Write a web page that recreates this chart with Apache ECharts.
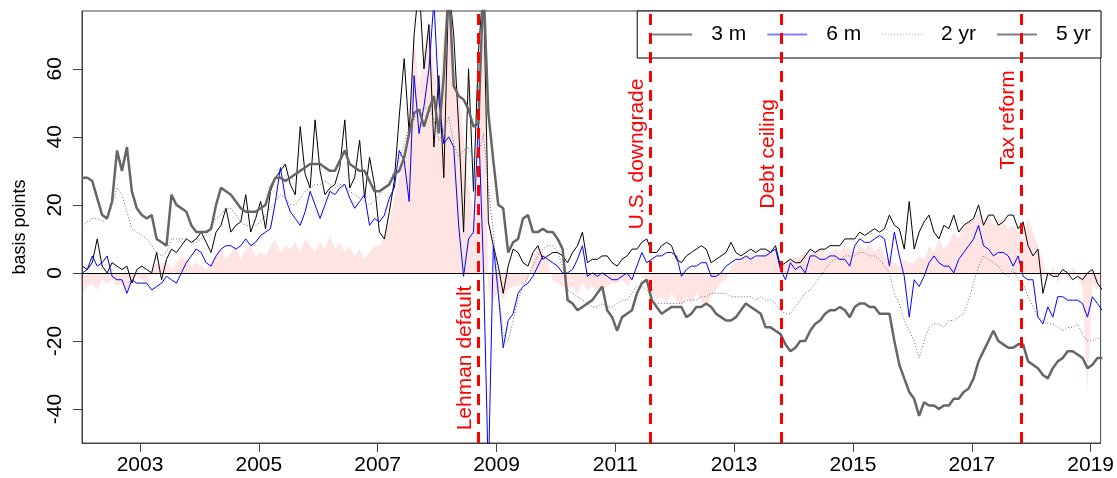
<!DOCTYPE html>
<html><head><meta charset="utf-8">
<script src="https://cdn.jsdelivr.net/npm/echarts@6/dist/echarts.min.js"></script>
<style>html,body{margin:0;padding:0;background:#fff}#c{width:1117px;height:478px}</style>
</head><body><div id="c"></div>
<script>
// Monthly observations, first one at START (decimal year), one month apart
const START = 2002.03;
const STEP = 1 / 12;

const spread3m = [
  2, 1, 3, 10, 2, 0, 3, 2, 1, 2, -3, 1,
  2, 1, 0, 6, -2, 4, 7, 6, 8, 10, 9, 10,
  12, 9, 6, 12, 14, 19, 12, 14, 15, 23, 12, 16,
  21, 13, 24, 28, 30, 32, 26, 23, 43, 29, 25, 45,
  30, 23, 25, 26, 31, 45, 25, 28, 39, 22, 34, 26,
  12, 10, 18, 27, 46, 63, 41, 70, 85, 60, 73, 37,
  58, 28, 85, 70, 43, 12, 60, 24, 65, 85, 15, 8,
  2, -6, 2, 7, 6, 3, 2, 6, 8, 4, 5, 6,
  6, 5, 3, 6, 8, 12, 3, 4, 4, 5, 5, 3,
  2, 4, 5, 7, 7, 9, 10, 6, 6, 8, 9, 8,
  4, 3, 5, 6, 7, 8, 7, 3, 4, 5, 6, 9,
  6, 5, 6, 7, 6, 7, 7, 6, 8, 2, 3, 4,
  3, 3, 5, 7, 6, 7, 7, 8, 8, 8, 10, 10,
  10, 12, 11, 12, 13, 12, 13, 17, 14, 13, 7, 21,
  7, 12, 15, 17, 12, 10, 14, 13, 17, 12, 14, 15,
  16, 20, 14, 17, 17, 14, 15, 17, 17, 13, 15, 8,
  5, 7, -6, 0, -1, -1, 1, 0, -2, -1, -2, 0,
  1, -3, -5
];
const spread6m = [
  0, 1, 5, 2, 3, 5, -1, -2, -2, -6, -2, -3,
  -3, -3, -5, -4, -3, -1, -2, -3, 0, 3, 5, 7,
  6, 3, 2, 5, 7, 8, 8, 7, 8, 10, 8, 9,
  11, 12, 13, 21, 31, 22, 18, 16, 14, 18, 24, 20,
  16, 20, 24, 23, 25, 26, 22, 19, 21, 23, 14, 16,
  15, 17, 22, 25, 36, 33, 21, 58, 41, 49, 60, 80,
  51, 38, 40, 37, 14, -1, 10, 12, 45, 2, -60, 8,
  -6, -22, -14, -12, -6, -4, -3, -1, 2, 5, 4, 3,
  2, 0, 0, 1, 4, 8, -1, 0, -1, 0, -1, -2,
  -2, -1, 0, -2, 2, 6, 3, 4, 5, 5, 6, 6,
  5, -1, 1, 2, 2, 3, 3, -1, -1, 0, 2, 3,
  4, 4, 5, 4, 5, 5, 5, 6, 7, 1, -2, 3,
  1, 2, 0, 5, 5, 4, 4, 5, 5, 4, 4, 2,
  8, 10, 9, 9, 10, 11, 10, 2, 12, 5, -1, -13,
  -2, -4, -1, 3, 5, 3, 2, 2, 0, 4, 6, 8,
  10, 14, 8, 7, 5, 6, 6, 5, 2, 5, -1, -2,
  -2, -13, -15, -10, -13, -7, -7, -8, -8, -8, -9, -13,
  -7, -9, -11
];
const spread2y = [
  14, 15, 16, 16, 15, 16, 20, 25, 23, 18, 13, 12,
  11, 10, 8, 6, 5, 6, 10, 10, 10, 10, 9, 9,
  10, 11, 14, 16, 17, 19, 19, 17, 15, 14, 14, 14,
  15, 17, 19, 21, 23, 22, 20, 20, 22, 24, 25, 26,
  26, 27, 26, 25, 26, 26, 24, 23, 22, 21, 20, 21,
  23, 25, 27, 30, 33, 38, 43, 45, 48, 48, 49, 45,
  39, 42, 46, 38, 34, 36, 37, 33, 35, 41, 25, 12,
  -5, -18, -20, -14, -8, -4, -1, 2, 5, 7, 8, 8,
  6, 2, -5, -6, -7, -8, -9, -10, -10, -9, -10, -10,
  -9, -8, -8, -6, -4, -4, -5, -7, -9, -9, -9, -9,
  -9, -9, -8, -8, -8, -7, -7, -6, -6, -6, -6, -7,
  -7, -7, -7, -7, -8, -7, -8, -8, -9, -11, -12, -12,
  -10, -8, -6, -5, -3, -1, 1, 3, 4, 4, 5, 5,
  5, 6, 6, 5, 5, 4, 2, 0, -6, -9, -14, -17,
  -20, -25, -20, -16, -15, -15, -16, -14, -14, -13, -12, -8,
  -3, 2, 5, 4, 3, 2, 0, -1, 1, -2, -3, -7,
  -10, -13, -14, -15, -15, -16, -17, -16, -16, -15, -18, -20,
  -20, -19, -20
];
const spread5y = [
  28, 28, 27, 22, 17, 16, 21, 36, 30, 37, 24, 19,
  17, 16, 17, 10, 9, 8, 23, 20, 19, 18, 14, 12,
  12, 12, 13, 20, 25, 24, 23, 21, 19, 18, 18, 18,
  19, 20, 25, 28, 28, 27, 28, 29, 30, 31, 32, 32,
  32, 31, 30, 30, 33, 36, 32, 31, 30, 30, 27, 24,
  24, 25, 26, 29, 30, 34, 41, 47, 48, 43, 48, 52,
  41, 58, 85, 55, 52, 51, 48, 43, 44, 85, 47, 33,
  20, 19, 6, 9, 10, 16, 17, 12, 12, 13, 12, 12,
  10, 7, -8, -9, -11, -10, -9, -8, -6, -4, -11, -13,
  -17, -13, -12, -11, -6, -3, -2, -8, -10, -12, -11, -10,
  -10, -10, -13, -12, -10, -10, -9, -10, -12, -13, -14, -14,
  -13, -11, -9, -10, -11, -12, -16, -16, -17, -18, -21, -23,
  -22, -20, -20, -17, -15, -14, -12, -11, -11, -10, -11, -13,
  -10, -9, -9, -10, -10, -12, -12, -12, -20, -27, -31, -35,
  -37, -42, -38, -39, -39, -40, -39, -39, -37, -37, -35, -34,
  -31, -26, -23, -20, -17, -20, -21, -22, -22, -21, -21, -26,
  -27, -28, -30, -31, -28, -26, -25, -23, -23, -24, -25, -28,
  -27, -25, -25
];
const shade = [
  -6, -4, -3, -5, -2, -3, -2, -4, -3, -5, -2, -1,
  -2, -3, 1, 3, 2, 4, 1, 3, 5, 4, 2, 3,
  2, 1, 3, 5, 7, 4, 6, 8, 4, 7, 8, 5,
  6, 5, 8, 10, 6, 8, 7, 9, 6, 10, 8, 6,
  9, 7, 11, 7, 9, 6, 8, 5, 7, 4, 6, 8,
  8, 11, 15, 22, 28, 34, 45, 70, 55, 65, 75, 60,
  50, 70, 80, 60, 55, 40, 25, 18, 30, 80, -5, -8,
  -6, -8, -5, -4, -4, -3, -2, 4, 8, 6, 3, -2,
  -3, -4, -5, -4, -6, -3, -5, -4, -6, -5, -4, -3,
  -3, -2, -4, -2, 0, -1, -3, -6, -8, -7, -9, -6,
  -8, -10, -7, -9, -6, -8, -10, -7, -5, -3, -2, 2,
  3, 4, 5, 6, 4, 5, 6, 7, 5, 2, 3, 4,
  4, 5, 6, 5, 6, 7, 5, 6, 7, 6, 8, 7,
  6, 8, 7, 9, 6, 8, 5, 4, 3, 2, 4, 3,
  3, 5, 4, 8, 6, 10, 7, 9, 12, 10, 14, 15,
  16, 18, 15, 17, 14, 16, 15, 13, 14, 12, 10, 16,
  12, 8, 3, -2, 2, -3, 1, -2, 2, -1, -4, -35,
  -3, -5, -2
];

const eventNames = ['Lehman default', 'U.S. downgrade', 'Debt ceiling', 'Tax reform'];
const eventDates = [2008.70, 2011.59, 2013.79, 2017.83];
const xTicks = [2003, 2005, 2007, 2009, 2011, 2013, 2015, 2017, 2019];
const yTicks = [-40, -20, 0, 20, 40, 60];

const FONT = "'Liberation Sans', Arial, Helvetica, sans-serif";
const toXY = arr => arr.map((v, i) => [START + i * STEP, v]);
const labelLevels = [-25, 35, 35, 45];
const noSym = { opacity: 0 };

const chart = echarts.init(document.getElementById('c'), null, { renderer: 'canvas' });
chart.setOption({
  animation: false,
  backgroundColor: '#fff',
  textStyle: { fontFamily: FONT },
  grid: { left: 82, right: 16, top: 11, bottom: 35, show: true, borderColor: '#444', borderWidth: 1, backgroundColor: 'transparent' },
  legend: {
    right: 16, top: 11,
    padding: [13, 10, 13, 14],
    borderColor: '#000', borderWidth: 1, borderRadius: 0,
    backgroundColor: '#fff',
    itemWidth: 40, itemHeight: 14, itemGap: 20,
    itemStyle: noSym,
    textStyle: { fontSize: 21, color: '#000', fontFamily: FONT, padding: [0, 0, 0, 14] },
    data: [
      { name: '3 m', itemStyle: noSym, lineStyle: { color: '#7f7f7f', width: 2 } },
      { name: '6 m', itemStyle: noSym, lineStyle: { color: '#7f7fff', width: 2 } },
      { name: '2 yr', itemStyle: noSym, lineStyle: { color: '#c4c4c4', width: 1.5, type: [1, 2] } },
      { name: '5 yr', itemStyle: noSym, lineStyle: { color: '#7f7f7f', width: 2 } }
    ]
  },
  xAxis: {
    type: 'value', min: 2002.024, max: 2019.168,
    axisLine: { show: true, onZero: false, lineStyle: { color: '#444', width: 1 } },
    axisTick: { show: true, length: 9, customValues: xTicks, lineStyle: { color: '#444' } },
    axisLabel: { customValues: xTicks, formatter: v => String(v), fontSize: 21, color: '#000', margin: 12, fontFamily: FONT },
    splitLine: { show: false }
  },
  yAxis: {
    type: 'value', min: -50, max: 77,
    name: 'basis points', nameLocation: 'middle', nameGap: 53,
    nameTextStyle: { fontSize: 18, color: '#000', fontFamily: FONT },
    axisLine: { show: true, onZero: false, lineStyle: { color: '#444', width: 1 } },
    axisTick: { show: true, length: 9, customValues: yTicks, lineStyle: { color: '#444' } },
    axisLabel: { customValues: yTicks, formatter: v => String(v), rotate: 90, fontSize: 21, color: '#000', margin: 16, fontFamily: FONT },
    splitLine: { show: false }
  },
  series: [
    { name: '3 m', type: 'line', data: toXY(spread3m), symbol: 'none', showSymbol: false,
      lineStyle: { color: '#000', width: 1 }, itemStyle: { color: '#000' } },
    { name: '6 m', type: 'line', data: toXY(spread6m), symbol: 'none', showSymbol: false,
      lineStyle: { color: '#0000ff', width: 1 }, itemStyle: { color: '#0000ff' } },
    { name: '2 yr', type: 'line', data: toXY(spread2y), symbol: 'none', showSymbol: false,
      lineStyle: { color: '#6a6a6a', width: 1, type: [1, 2] }, itemStyle: { color: '#6a6a6a' } },
    { name: '5 yr', type: 'line', data: toXY(spread5y), symbol: 'none', showSymbol: false,
      lineStyle: { color: '#666666', width: 2.5 }, itemStyle: { color: '#666666' } },
    { name: 'shade', type: 'line', data: toXY(shade), symbol: 'none', showSymbol: false,
      lineStyle: { width: 0, opacity: 0 }, areaStyle: { color: 'rgba(255,0,0,0.15)' },
      markLine: { silent: true, symbol: ['none', 'none'], label: { show: false },
        lineStyle: { color: '#000', width: 1, type: 'solid' }, data: [{ yAxis: 0 }] } },
    { name: 'events', type: 'scatter', z: 10,
      data: eventDates.map((d, i) => ({ value: [d, labelLevels[i]], name: eventNames[i] })),
      symbol: 'circle', symbolSize: 1, itemStyle: { color: 'rgba(0,0,0,0)', opacity: 1 },
      label: { show: true, formatter: '{b}', rotate: 90, position: 'inside', offset: [0, -13],
        color: '#ff0000', fontSize: 21, fontFamily: FONT },
      markLine: { silent: true, symbol: ['none', 'none'], label: { show: false },
        lineStyle: { color: '#ff0000', width: 3, type: [11, 8] },
        data: eventDates.map(d => ({ xAxis: d })) } }
  ]
});
</script>
</body></html>
